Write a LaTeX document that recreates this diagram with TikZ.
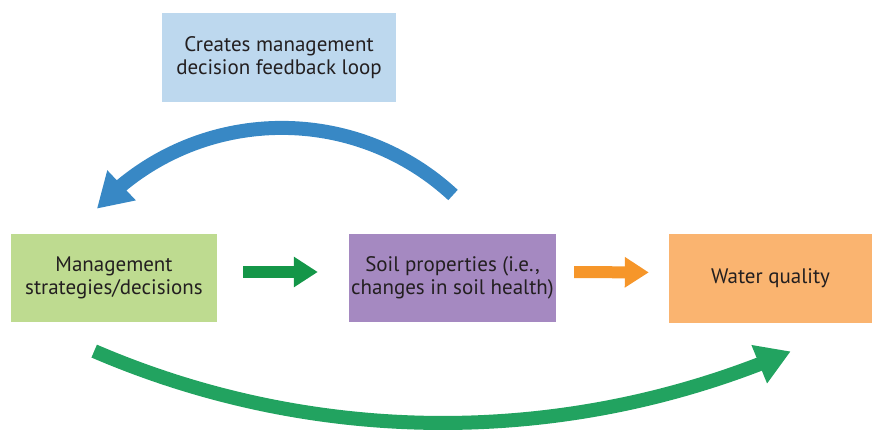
\documentclass[tikz,border=0pt]{standalone}
\usepackage{fontspec}
\setmainfont{PT Sans}
\usetikzlibrary{arrows.meta,bending,calc}

\definecolor{boxblue}{RGB}{189,216,238}
\definecolor{boxgreen}{RGB}{190,219,144}
\definecolor{boxpurple}{RGB}{165,137,193}
\definecolor{boxorange}{RGB}{250,180,112}
\definecolor{arrowblue}{RGB}{56,136,197}
\definecolor{arrowgreen}{RGB}{34,163,96}
\definecolor{darkgreen}{RGB}{20,150,72}
\definecolor{arroworange}{RGB}{246,150,42}
\definecolor{ink}{RGB}{35,31,32}

\begin{document}
\begin{tikzpicture}[x=1pt,y=1pt,
  box/.style={rectangle, inner sep=0pt, align=center, text=ink,
              font=\fontsize{21}{22.4}\selectfont},
  bigarrow/.style={line width=14pt, -{Triangle[length=34pt,width=39pt]}},
  flatarrow/.style={line width=12pt, -{Triangle[length=24pt,width=29pt]}}]

\useasboundingbox (0,0) rectangle (872,429);

% boxes
\node[box, fill=boxblue, minimum width=234pt, minimum height=89pt] (loop) at (279,371.5)
  {Creates management\\decision feedback loop};
\node[box, fill=boxgreen, minimum width=206pt, minimum height=88pt] (mgmt) at (114,151)
  {Management\\strategies/decisions};
\node[box, fill=boxpurple, minimum width=207pt, minimum height=88pt] (soil) at (452.5,151)
  {Soil properties (i.e.,\\changes in soil health)};
\node[box, fill=boxorange, minimum width=203pt, minimum height=89pt] (water) at (770.5,150.5)
  {Water quality};

% straight arrows between the boxes
\draw[flatarrow, darkgreen, shorten <=26pt, shorten >=31pt]
  ([yshift=6pt]mgmt.east) -- ([yshift=6pt]soil.west);
\draw[flatarrow, arroworange, shorten <=18pt, shorten >=20pt]
  ([yshift=6pt]soil.east) -- ([yshift=6pt]water.west);

% feedback arc back to the management box
\coordinate (fbstart) at (453,234);
\draw[bigarrow, arrowblue] (fbstart) arc[start angle=47.2, end angle=137.2, radius=252pt];

% direct effect arc under the boxes
\coordinate (dirstart) at (94.2,77.9);
\draw[bigarrow, arrowgreen] (dirstart) arc[start angle=246.7, end angle=293.25, radius=881.4pt];
\end{tikzpicture}
\end{document}
